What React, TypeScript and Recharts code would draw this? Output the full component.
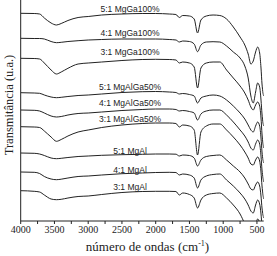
import React from "react";
import { LineChart, Line, XAxis, YAxis, ReferenceDot, Label } from "recharts";

// wavenumber grid (cm-1), shared by all spectra
const wavenumbers = [
  4000, 3800, 3720, 3650, 3550, 3470, 3400, 3300, 3150, 3000, 2800, 2500, 2200, 2000, 1800, 1700, 1650, 1600,
  1500, 1430, 1380, 1330, 1250, 1150, 1050, 950, 850, 750, 680, 630, 590, 555, 520, 490, 460, 440, 425, 410, 400,
];

// stacked transmittance (u.a.)
const mgGa100_51 = [
  207.7, 207.5, 207, 203, 198, 196, 197.5, 200.5, 203.5, 204.5, 206, 207, 207.5, 207.5, 207, 206.5, 203.5, 205.5,
  205, 202, 188, 201, 205, 206, 205.5, 202, 194, 184, 176, 167, 157, 160, 169, 174, 168, 153, 137, 128, 125,
];
const mgGa100_41 = [
  182.7, 182.5, 182.5, 182, 179.5, 178.3, 178.7, 179.5, 180.3, 181, 181.5, 182, 182, 182, 181.5, 181, 179, 180,
  179.5, 177, 169.3, 176, 179, 179.3, 179, 175, 169, 163, 155, 143, 125, 118, 129, 138, 134, 121, 107, 98, 95,
];
const mgGa100_31 = [
  162.7, 162.5, 162, 158, 151, 147, 149, 152.7, 157, 158, 159, 160.5, 161.5, 161.7, 161.5, 161, 158, 159, 158, 154,
  133, 153, 158, 159, 159, 151, 143, 135, 128, 121, 114, 111, 116, 119, 115, 103, 87, 77, 73,
];
const mgAlGa50_51 = [
  128.3, 128, 127.7, 126, 124, 123.3, 123.7, 124.5, 125.5, 126, 127, 128.5, 129.3, 129.5, 129, 128.5, 127, 127.5,
  126.5, 125, 118, 123, 125, 126, 125, 121, 115, 108, 102, 96, 91, 89, 95, 99, 95, 83, 69, 61, 58,
];
const mgAlGa50_41 = [
  111, 110.7, 110, 108, 105, 104, 104.5, 106, 107.5, 108, 109, 110.5, 111.5, 112, 112, 111.5, 110, 110.5, 109.5,
  108, 101, 107, 110, 111, 111, 106, 99, 91, 85, 79, 73, 71, 77, 81, 77, 65, 51, 43, 39,
];
const mgAlGa50_31 = [
  94.3, 94, 93.5, 90, 84, 79.7, 81.5, 85, 89, 91, 93.5, 96, 97.5, 98, 98, 97.5, 94, 96, 95, 91, 66, 89, 95, 97, 97,
  91, 84, 76, 69, 63, 57, 56, 61, 64, 60, 49, 35, 26, 22,
];
const mgAl_51 = [
  68, 67.7, 67, 65.5, 63, 62.3, 62.7, 63.5, 64.5, 65, 65.7, 66.3, 66.7, 67, 67, 66.8, 65, 66, 65.5, 63, 55, 61,
  64.5, 65.5, 66, 61, 55, 49, 43, 37, 32, 31, 36, 39, 35, 25, 13, 6, 3,
];
const mgAl_41 = [
  49, 48.7, 47.5, 44.5, 42, 41.3, 41.8, 43, 44.5, 45, 46, 47.3, 48, 48.5, 48.7, 48.5, 46, 47, 46, 43, 33, 41, 45,
  46.5, 47, 41, 35, 28, 22, 16, 10, 8, 16, 21, 17, 7, -5, -11, -15,
];
const mgAl_31 = [
  30.3, 29.7, 29, 26, 22, 21.3, 21.7, 23, 24.5, 25, 26.5, 28.5, 29.5, 29.7, 29.7, 29.5, 26, 28, 26.5, 23, 13, 21,
  26, 27.5, 28, 23, 16, 7, -3, -11, -16, -17, -5, 2, -2, -11, -23, -29, -33,
];

const spectra = [
  mgGa100_51, mgGa100_41, mgGa100_31,
  mgAlGa50_51, mgAlGa50_41, mgAlGa50_31,
  mgAl_51, mgAl_41, mgAl_31,
];
const sampleNames = [
  "5:1 MgGa100%", "4:1 MgGa100%", "3:1 MgGa100%",
  "5:1 MgAlGa50%", "4:1 MgAlGa50%", "3:1 MgAlGa50%",
  "5:1 MgAl", "4:1 MgAl", "3:1 MgAl",
];
// where each sample name sits (x in cm-1, y in u.a.)
const labelWavenumber = 2380;
const labelLevels = [211.7, 187.7, 168.7, 134.3, 117.7, 101.7, 69.7, 51.3, 33.7];

const xTicks = [4000, 3750, 3500, 3250, 3000, 2750, 2500, 2250, 2000, 1750, 1500, 1250, 1000, 750, 500];

const rows = wavenumbers.map((w, i) => {
  const row: Record<string, number> = { w };
  spectra.forEach((s, k) => {
    row[`s${k}`] = s[i];
  });
  return row;
});

const SERIF = "'Liberation Serif', 'Times New Roman', serif";
const SANS = "'Liberation Sans', Arial, sans-serif";
const INK = "#222";

const WaveTick = (props: any) => {
  const { x, y, payload } = props;
  if (payload.value % 500 !== 0) return null;
  return (
    <text x={x} y={y} dy={7} textAnchor="middle" fontSize={10} fontFamily={SERIF} fill={INK}>
      {payload.value}
    </text>
  );
};

export default function App() {
  return (
    <div style={{ position: "absolute", left: 0, top: 0, background: "#fff" }}>
      <LineChart width={277} height={256} data={rows} margin={{ top: 0, right: 13.3, bottom: 0, left: 0 }}>
        <XAxis
          dataKey="w"
          type="number"
          domain={[400, 4000]}
          reversed
          allowDataOverflow
          ticks={xTicks}
          interval={0}
          tick={<WaveTick />}
          tickSize={3}
          tickMargin={2}
          height={35}
          stroke={INK}
        >
          <Label
            content={() => (
              <text x={147.5} y={251} textAnchor="middle" fontSize={13} fontFamily={SERIF} fill={INK}>
                número de ondas (cm
                <tspan dy={-5} fontSize={8}>-1</tspan>
                <tspan dy={5}>)</tspan>
              </text>
            )}
          />
        </XAxis>
        <YAxis
          type="number"
          domain={[0, 221]}
          allowDataOverflow
          tick={false}
          tickLine={false}
          width={20.7}
          stroke={INK}
        >
          <Label
            content={() => (
              <text
                x={8.5}
                y={105}
                transform="rotate(-90 8.5 105)"
                textAnchor="middle"
                dominantBaseline="central"
                fontSize={12.5}
                fontFamily={SERIF}
                fill={INK}
              >
                Transmitância (u.a.)
              </text>
            )}
          />
        </YAxis>
        {spectra.map((_, k) => (
          <Line
            key={k}
            dataKey={`s${k}`}
            type="monotone"
            stroke={INK}
            strokeWidth={1}
            dot={false}
            isAnimationActive={false}
          />
        ))}
        {sampleNames.map((name, k) => (
          <ReferenceDot
            key={name}
            x={labelWavenumber}
            y={labelLevels[k]}
            r={0}
            fill="none"
            stroke="none"
            label={{ value: name, position: "center", fontSize: 8.5, fontFamily: SANS, fill: INK }}
          />
        ))}
      </LineChart>
    </div>
  );
}
